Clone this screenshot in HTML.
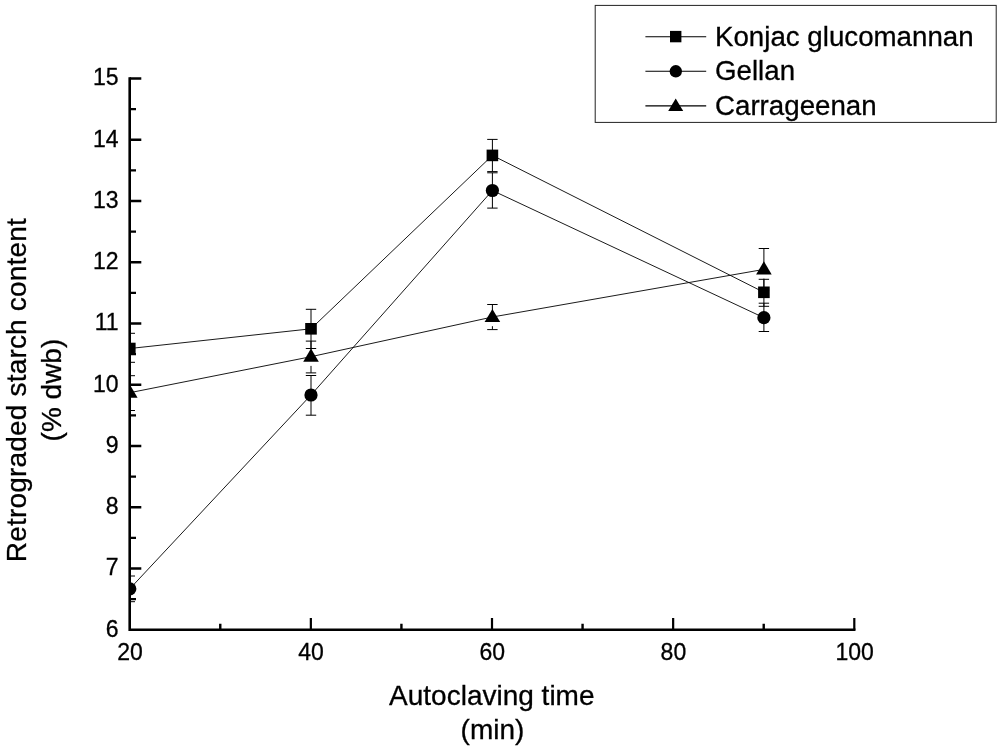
<!DOCTYPE html>
<html lang="en"><head><meta charset="utf-8"><title>Retrograded starch content</title>
<style>html,body{margin:0;padding:0;background:#fff}svg{display:block}</style></head>
<body>
<svg width="1000" height="749" viewBox="0 0 1000 749">
<rect width="1000" height="749" fill="#fff"/>
<defs><clipPath id="plot"><rect x="129" y="60" width="760" height="571"/></clipPath></defs>
<g clip-path="url(#plot)">
<g stroke="#000" stroke-width="0.9" fill="none">
<polyline points="129.8,348.5 311.0,328.8 492.4,155.4 763.9,292.3"/>
<polyline points="129.8,588.8 311.0,395.0 492.4,190.5 763.9,317.7"/>
<polyline points="129.8,392.7 311.0,356.7 492.4,317.0 763.9,269.4"/>
</g>
<g stroke="#000" stroke-width="1" fill="none">
<path d="M129.8 333.3V362.3"/>
<path d="M124.6 333.3H135.0M124.6 362.3H135.0"/>
<path d="M311.0 309.3V348.5"/>
<path d="M305.8 309.3H316.2M305.8 348.5H316.2"/>
<path d="M492.4 139.4V171.6"/>
<path d="M487.2 139.4H497.6M487.2 171.6H497.6"/>
<path d="M763.9 279.3V306.3"/>
<path d="M758.7 279.3H769.1M758.7 306.3H769.1"/>
<path d="M129.8 576.0V601.7"/>
<path d="M124.6 576.0H135.0M124.6 601.7H135.0"/>
<path d="M311.0 375.5V415.2"/>
<path d="M305.8 375.5H316.2M305.8 415.2H316.2"/>
<path d="M492.4 172.8V208.1"/>
<path d="M487.2 172.8H497.6M487.2 208.1H497.6"/>
<path d="M763.9 303.2V331.5"/>
<path d="M758.7 303.2H769.1M758.7 331.5H769.1"/>
<path d="M129.8 375.7V392.7M129.8 401.9V410.5"/>
<path d="M124.6 375.7H135.0M124.6 410.5H135.0"/>
<path d="M311.0 341.1V356.7M311.0 365.9V372.9"/>
<path d="M305.8 341.1H316.2M305.8 372.9H316.2"/>
<path d="M492.4 304.5V317.0M492.4 326.2V329.6"/>
<path d="M487.2 304.5H497.6M487.2 329.6H497.6"/>
<path d="M763.9 248.5V269.4M763.9 278.6V290.4"/>
<path d="M758.7 248.5H769.1M758.7 290.4H769.1"/>
</g>
<g fill="#000">
<rect x="124.0" y="342.7" width="11.6" height="11.6"/>
<rect x="305.2" y="323.0" width="11.6" height="11.6"/>
<rect x="486.6" y="149.6" width="11.6" height="11.6"/>
<rect x="758.1" y="286.5" width="11.6" height="11.6"/>
<circle cx="129.8" cy="588.8" r="6.6"/>
<circle cx="311.0" cy="395.0" r="6.6"/>
<circle cx="492.4" cy="190.5" r="6.6"/>
<circle cx="763.9" cy="317.7" r="6.6"/>
<path d="M129.8 384.6L137.6 397.7L122.0 397.7Z"/>
<path d="M311.0 348.6L318.8 361.7L303.2 361.7Z"/>
<path d="M492.4 308.9L500.2 322.0L484.6 322.0Z"/>
<path d="M763.9 261.3L771.7 274.4L756.1 274.4Z"/>
</g>
</g>
<g stroke="#000" fill="none">
<path d="M129.70 77.25V629.80H855.50" stroke-width="2.6" stroke-linejoin="miter"/>
<path d="M129.70 568.54H141.30M129.70 507.29H141.30M129.70 446.03H141.30M129.70 384.78H141.30M129.70 323.52H141.30M129.70 262.27H141.30M129.70 201.01H141.30M129.70 139.76H141.30M129.70 78.50H141.30" stroke-width="2.5"/>
<path d="M129.70 599.17H136.00M129.70 537.92H136.00M129.70 476.66H136.00M129.70 415.41H136.00M129.70 354.15H136.00M129.70 292.89H136.00M129.70 231.64H136.00M129.70 170.38H136.00M129.70 109.13H136.00" stroke-width="2.2"/>
<path d="M310.85 629.80V618.00M492.00 629.80V618.00M673.15 629.80V618.00M854.30 629.80V618.00" stroke-width="2.2"/>
<path d="M220.27 629.80V623.70M401.42 629.80V623.70M582.57 629.80V623.70M763.72 629.80V623.70" stroke-width="2.4"/>
</g>
<g font-family="'Liberation Sans', Arial, sans-serif" font-size="23" fill="#000" stroke="#000" stroke-width="0.3">
<text x="118.6" y="636.5" text-anchor="end">6</text>
<text x="118.6" y="575.2" text-anchor="end">7</text>
<text x="118.6" y="514.0" text-anchor="end">8</text>
<text x="118.6" y="452.7" text-anchor="end">9</text>
<text x="118.6" y="391.5" text-anchor="end">10</text>
<text x="118.6" y="330.2" text-anchor="end">11</text>
<text x="118.6" y="269.0" text-anchor="end">12</text>
<text x="118.6" y="207.7" text-anchor="end">13</text>
<text x="118.6" y="146.5" text-anchor="end">14</text>
<text x="118.6" y="85.2" text-anchor="end">15</text>
<text x="130.0" y="660" text-anchor="middle">20</text>
<text x="311.1" y="660" text-anchor="middle">40</text>
<text x="492.3" y="660" text-anchor="middle">60</text>
<text x="673.4" y="660" text-anchor="middle">80</text>
<text x="854.6" y="660" text-anchor="middle">100</text>
</g>
<g font-family="'Liberation Sans', Arial, sans-serif" font-size="28" fill="#000" stroke="#000" stroke-width="0.3" text-anchor="middle">
<text x="491.8" y="705">Autoclaving time</text>
<text x="492.5" y="738.8">(min)</text>
<text transform="translate(26 390.2) rotate(-90)" textLength="344.1" lengthAdjust="spacing">Retrograded starch content</text>
<text transform="translate(61.2 390.1) rotate(-90)">(% dwb)</text>
</g>
<rect x="595.2" y="5.4" width="401" height="117" fill="#fff" stroke="#222" stroke-width="1"/>
<g stroke="#000" stroke-width="1.1"><path d="M645.4 36.8H706.2M645.4 71.3H706.2M645.4 105.9H706.2"/></g>
<rect x="670" y="30.9" width="11.4" height="11.4" fill="#000"/>
<circle cx="675.8" cy="71.3" r="6.2" fill="#000"/>
<path d="M675.7 98.4L683.2 111.1L668.2 111.1Z" fill="#000"/>
<g font-family="'Liberation Sans', Arial, sans-serif" font-size="27.7" fill="#000" stroke="#000" stroke-width="0.3">
<text x="715" y="45.7">Konjac glucomannan</text>
<text x="715" y="80.2">Gellan</text>
<text x="715" y="114.9">Carrageenan</text>
</g>
</svg>
</body></html>
